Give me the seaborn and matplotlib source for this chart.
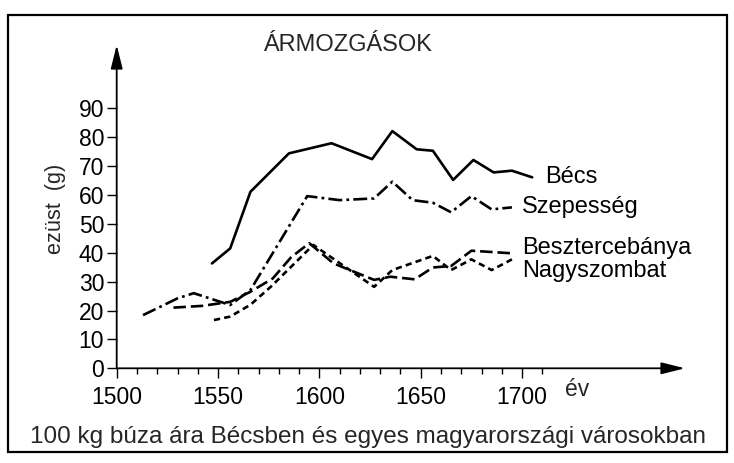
import matplotlib
matplotlib.use("Agg")
import matplotlib.pyplot as plt
import seaborn as sns

# Values (ezüst, g)
becs_years = [1547, 1556, 1566, 1585, 1606, 1626, 1636, 1648, 1656, 1666, 1676, 1686, 1695, 1705]
becs_vals = [36.3, 41.5, 61.1, 74.4, 77.9, 72.4, 82.1, 75.8, 75.3, 65.2, 72.1, 67.8, 68.4, 66.1]

szep_years = [1513, 1530, 1538, 1556, 1566, 1594, 1610, 1627, 1636, 1646, 1656, 1665, 1675, 1685, 1695]
szep_vals = [18.4, 24.2, 26.0, 21.9, 27.1, 59.6, 58.2, 58.8, 64.6, 58.2, 57.3, 54.0, 59.6, 55.0, 55.7]

besz_years = [1528, 1542, 1556, 1566, 1577, 1586, 1595, 1607, 1627, 1635, 1647, 1656, 1665, 1675, 1695]
besz_vals = [21.0, 21.6, 23.0, 26.5, 31.1, 38.4, 43.3, 36.3, 30.6, 31.7, 30.8, 34.9, 35.4, 40.7, 39.8]

nagy_years = [1548, 1556, 1566, 1576, 1597, 1627, 1636, 1656, 1665, 1675, 1685, 1695]
nagy_vals = [16.7, 17.9, 22.0, 28.2, 42.7, 28.2, 34.0, 38.9, 34.0, 37.7, 34.0, 37.7]

x_ticks = [1500, 1550, 1600, 1650, 1700]
x_minor = list(range(1500, 1711, 10))
y_ticks = [0, 10, 20, 30, 40, 50, 60, 70, 80, 90]

sns.set_theme(style="white")
plt.rcParams['font.family'] = ['Liberation Sans', 'DejaVu Sans']
plt.rcParams['lines.scale_dashes'] = False

W, H = 734, 463
fig = plt.figure(figsize=(W / 100, H / 100), dpi=100)
fig.patch.set_facecolor('white')


def fx(px):
    return px / W


def fy(py):
    return 1 - py / H


# axes placed so that 1500/0 sits at the axis corner and the arrows end at the edges
ax = fig.add_axes([fx(116.7), fy(368.3), fx(685) - fx(116.7), fy(45) - fy(368.3)])
ax.set_xlim(1500, 1780.4)
ax.set_ylim(0, 111.9)
ax.set_facecolor('none')

lw = 1.9
sns.lineplot(x=becs_years, y=becs_vals, ax=ax, color='black', lw=lw, linestyle='-')
sns.lineplot(x=szep_years, y=szep_vals, ax=ax, color='black', lw=lw, linestyle=(0, (10, 3, 2, 3)))
sns.lineplot(x=besz_years, y=besz_vals, ax=ax, color='black', lw=lw, linestyle=(0, (9, 3.5)))
sns.lineplot(x=nagy_years, y=nagy_vals, ax=ax, color='black', lw=lw, linestyle=(0, (4.5, 3)))

for s in ['top', 'right', 'left', 'bottom']:
    ax.spines[s].set_visible(False)

# axis arrows
arrow = dict(arrowstyle='-|>,head_length=1.2,head_width=0.3', lw=1.3, color='black',
             shrinkA=0, shrinkB=0)
ax.annotate('', xy=(1, 0), xytext=(0, 0), xycoords='axes fraction', arrowprops=arrow)
ax.annotate('', xy=(0, 1), xytext=(0, 0), xycoords='axes fraction', arrowprops=arrow)

ax.set_xticks(x_ticks)
ax.set_xticklabels([str(v) for v in x_ticks])
ax.set_xticks(x_minor, minor=True)
ax.set_yticks(y_ticks)
ax.set_yticklabels([str(v) for v in y_ticks])
ax.tick_params(axis='x', which='major', direction='out', length=7.5, width=1, colors='black',
               labelsize=16.5, pad=5, bottom=True)
ax.tick_params(axis='x', which='minor', direction='out', length=4.5, width=1, colors='black', bottom=True)
ax.tick_params(axis='y', which='major', direction='out', length=7, width=1, colors='black',
               labelsize=16.5, pad=2, left=True)
ax.grid(False)

# line labels
lab_kw = dict(fontsize=17, color='black', va='center', ha='left')
ax.text(1711.5, 66.2, 'Bécs', **lab_kw)
ax.text(1700, 55.8, 'Szepesség', **lab_kw)
ax.text(1700, 41.6, 'Besztercebánya', **lab_kw)
ax.text(1700, 33.7, 'Nagyszombat', **lab_kw)

fig.text(fx(565), fy(389), 'év', fontsize=16.5, ha='left', va='center')
fig.text(fx(347), fy(45), 'ÁRMOZGÁSOK', fontsize=17, ha='center', va='center')
fig.text(fx(56), fy(209), 'ezüst  (g)', fontsize=15.6, rotation=90, ha='center', va='center')
fig.text(fx(368), fy(437), '100 kg búza ára Bécsben és egyes magyarországi városokban',
         fontsize=17.5, ha='center', va='center')

# outer frame
fig.add_artist(plt.Rectangle((fx(8), fy(452)), fx(727) - fx(8), fy(15) - fy(452),
                             transform=fig.transFigure, fill=False, lw=1.6, edgecolor='black'))

fig.savefig('out.png', dpi=100)
